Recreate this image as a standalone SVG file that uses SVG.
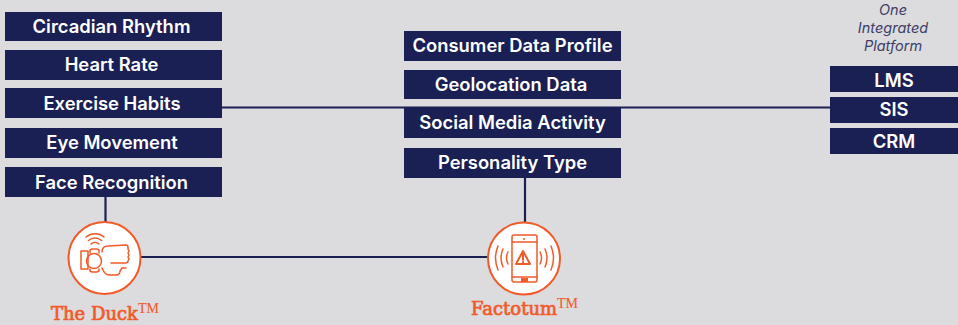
<svg xmlns="http://www.w3.org/2000/svg" width="958" height="325" viewBox="0 0 958 325">
<style>
.bg{fill:#dcdbdd}
.box{fill:#1a1f54}
.lbl{font-family:"Inter","Open Sans",sans-serif;font-weight:600;font-size:18.400px;fill:#fff;text-anchor:middle}
.conn{stroke:#1a1f54;stroke-width:2.2;fill:none}
.ring{fill:#fff;stroke:#f15a29;stroke-width:2}
.ic{fill:none;stroke:#f15a29;stroke-width:1.5;stroke-linejoin:round;stroke-linecap:round}
.fl{fill:#f15a29}
.name{font-family:"DejaVu Serif","Liberation Serif",serif;font-weight:400;font-size:18px;fill:#f15a29;stroke:#f15a29;stroke-width:.7;text-anchor:start}
.tm{font-family:"Liberation Serif",serif;font-size:14px;font-weight:400;stroke-width:.1}
.it{font-family:"Inter","Open Sans",sans-serif;font-style:italic;font-size:14.500px;fill:#3d4068;text-anchor:middle}
</style>
<rect class="bg" width="958" height="325"/>
<g id="connectors">
<line class="conn" x1="222" y1="107.500" x2="830" y2="107.500"/>
<line class="conn" x1="105.500" y1="197" x2="105.500" y2="222"/>
<line class="conn" x1="525" y1="178" x2="525" y2="222"/>
<line class="conn" x1="141" y1="257" x2="488" y2="257"/>
</g>
<g id="n-circadian"><rect class="box" x="5" y="12" width="217" height="29"/><text class="lbl" x="111.500" y="32.500">Circadian Rhythm</text></g>
<g id="n-heart"><rect class="box" x="5" y="50" width="217" height="30"/><text class="lbl" x="111.500" y="70.500">Heart Rate</text></g>
<g id="n-exercise"><rect class="box" x="5" y="88" width="217" height="30"/><text class="lbl" x="112" y="110">Exercise Habits</text></g>
<g id="n-eye"><rect class="box" x="5" y="128" width="217" height="30"/><text class="lbl" x="112" y="149">Eye Movement</text></g>
<g id="n-face"><rect class="box" x="5" y="167" width="217" height="30"/><text class="lbl" x="111.500" y="188.500">Face Recognition</text></g>
<g id="n-consumer"><rect class="box" x="404" y="31" width="217" height="30"/><text class="lbl" x="512.500" y="52">Consumer Data Profile</text></g>
<g id="n-geo"><rect class="box" x="404" y="70" width="217" height="29"/><text class="lbl" x="511" y="90.500">Geolocation Data</text></g>
<g id="n-social"><rect class="box" x="404" y="108" width="217" height="30"/><text class="lbl" x="512.500" y="129">Social Media Activity</text></g>
<g id="n-personality"><rect class="box" x="404" y="148" width="217" height="30"/><text class="lbl" x="512.500" y="168.500">Personality Type</text></g>
<g id="n-platform-label">
<text class="it" x="893" y="15">One</text>
<text class="it" x="893" y="33">Integrated</text>
<text class="it" x="893" y="51">Platform</text>
</g>
<g id="n-lms"><rect class="box" x="830" y="66" width="128" height="26"/><text class="lbl" x="894" y="87">LMS</text></g>
<g id="n-sis"><rect class="box" x="830" y="97" width="128" height="26"/><text class="lbl" x="894" y="116">SIS</text></g>
<g id="n-crm"><rect class="box" x="830" y="128" width="128" height="26"/><text class="lbl" x="894" y="147.500">CRM</text></g>
<g id="n-duck">
<circle class="ring" cx="104.500" cy="258" r="36"/>
<path class="ic" d="M88 251h-7v18h7v-18M102 252q0-6 6-6l18-1q2 0 2 2v2l1 2-1 2 1 2-1 2 1 2-1 2q0 2-3 2h-14M126 268h-4l-2 3q0 4-4 4h-7q-4 0-7-7"/>
<circle class="ic" cx="94" cy="261" r="7.500"/>
<path class="ic" d="M90 253v-3l2-1h5l2 1v3M90 269v2l2 1h5l2-1v-2"/>
<path class="ic" d="M91 244a6 6 0 0 1 8 0M88.500 240.500a10 10 0 0 1 13 0M86 237a14 14 0 0 1 18 0"/>
<text class="name" x="51" y="320">The Duck<tspan class="tm" dy="-7">TM</tspan></text>
</g>
<g id="n-factotum">
<circle class="ring" cx="524" cy="258.500" r="36"/>
<rect class="ic" x="512" y="235" width="25" height="47" rx="2"/>
<path class="ic" d="M512 242h25M512 277h25"/>
<rect class="fl" x="521" y="278" width="7" height="4"/>
<circle class="fl" cx="524" cy="239" r="1"/>
<path class="ic" style="stroke-width:2" d="M523 251l-7 13h14zM523 255v5M523 262v.5"/>
<path class="ic" d="M508 252q-3 6 0 12M503 249q-4 9 0 18M498 246q-5 12 0 24M540 252q3 6 0 12M545 249q4 9 0 18M551 246q5 12 0 24"/>
<text class="name" x="471" y="315">Factotum<tspan class="tm" dy="-7">TM</tspan></text>
</g>
</svg>
